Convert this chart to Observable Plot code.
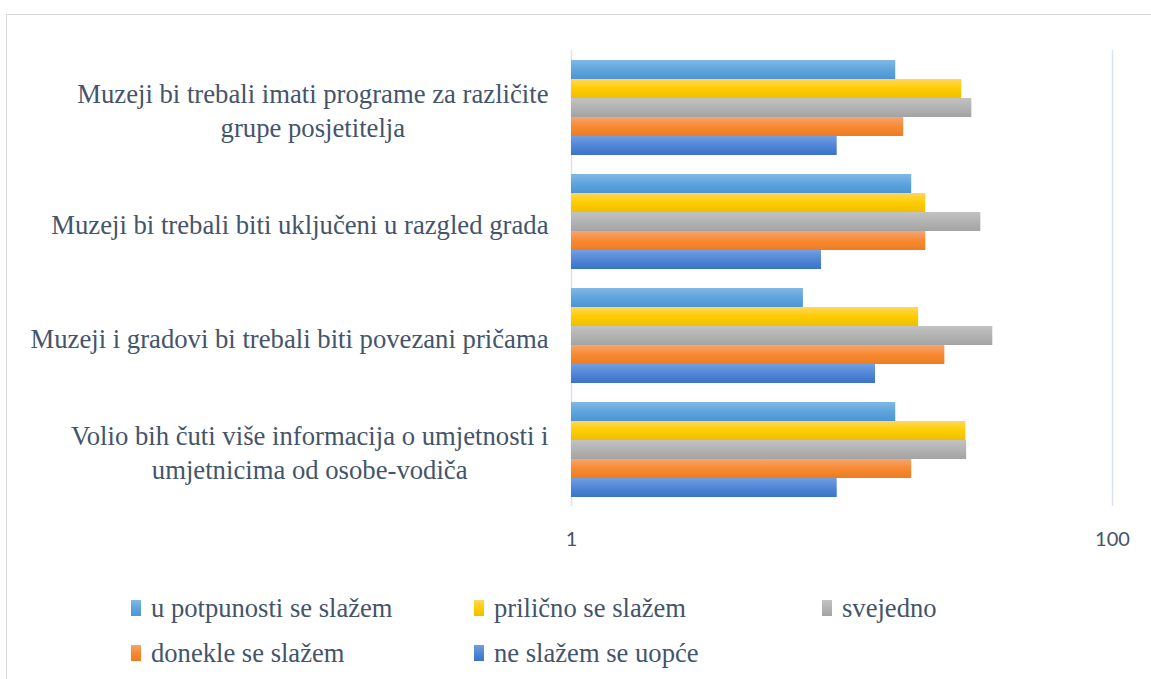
<!DOCTYPE html>
<html>
<head>
<meta charset="utf-8">
<script src="https://cdn.jsdelivr.net/npm/d3@7"></script>
<script src="https://cdn.jsdelivr.net/npm/@observablehq/plot@0.6"></script>
<style>
  html, body { margin: 0; padding: 0; background: #fff; width: 1151px; height: 679px; overflow: hidden; }
  #wrap { position: relative; width: 1151px; height: 679px; }
  #frame { position: absolute; left: 6px; top: 14px; width: 1200px; height: 700px; border-left: 1px solid #d9d9d9; border-top: 1px solid #d9d9d9; }
  #chart { position: absolute; left: 0; top: 0; }
  #legend { position: absolute; left: 0; top: 593px; width: 1151px; font-family: "Times New Roman", "Liberation Serif", "DejaVu Serif", serif; font-size: 26.6px; color: #44546a; }
  .item { position: absolute; display: flex; align-items: center; height: 30px; }
  .sw { width: 10px; height: 16px; margin-right: 10px; }
</style>
</head>
<body>
<div id="wrap">
  <div id="frame"></div>
  <div id="chart"></div>
  <div id="legend"></div>
</div>
<script>
// ---- data ----
const categories = [
  "Muzeji bi trebali imati programe za različite\ngrupe posjetitelja",
  "Muzeji bi trebali biti uključeni u razgled grada",
  "Muzeji i gradovi bi trebali biti povezani pričama",
  "Volio bih čuti više informacija o umjetnosti i\numjetnicima od osobe-vodiča"
];
const series = ["u potpunosti se slažem", "prilično se slažem", "svejedno", "donekle se slažem", "ne slažem se uopće"];
const uPotpunosti = [15.8, 18.1, 7.2, 15.8];
const prilicno    = [27.7, 20.4, 19.2, 28.7];
const svejedno    = [30.2, 32.6, 36.1, 28.9];
const donekle     = [16.9, 20.4, 24.0, 18.1];
const neSlazem    = [9.6, 8.4, 13.3, 9.6];
const xTicks = [1, 100];

const serifFont = '"Times New Roman", "Liberation Serif", "DejaVu Serif", serif';
const seriesValues = [uPotpunosti, prilicno, svejedno, donekle, neSlazem];
const gradients = [
  ["#82b8e6", "#5ea5dd", "#4d95d3"],
  ["#ffd75a", "#ffcc00", "#efbf00"],
  ["#c2c2c2", "#b3b3b3", "#a3a3a3"],
  ["#f7a46e", "#f78a32", "#ec7c22"],
  ["#729ee2", "#5286d6", "#3a73c6"]
];

const data = [];
categories.forEach((c, i) => {
  series.forEach((s, j) => data.push({category: c, series: s, value: seriesValues[j][i]}));
});

const chart = Plot.plot({
  width: 1151,
  height: 557,
  marginLeft: 571,
  marginRight: 39,
  marginTop: 49,
  marginBottom: 50,
  style: {background: "transparent"},
  x: {type: "log", domain: [1, 100], axis: null},
  y: {domain: series, paddingInner: 0, paddingOuter: 0.48, axis: null},
  fy: {domain: categories, padding: 0, axis: null},
  color: {domain: series, range: series.map((s, i) => `url(#grad${i})`)},
  marks: [
    Plot.gridX(xTicks, {stroke: "#dbe2ec", strokeOpacity: 1, strokeWidth: 1.5}),
    Plot.barX(data, {fy: "category", y: "series", x1: 1, x2: "value", fill: "series", inset: 0}),
    Plot.text(categories, {fy: d => d, text: d => d, frameAnchor: "left", textAnchor: "end", dx: -23, dy: 2,
      fontFamily: serifFont, fontSize: 26.7, lineHeight: 1.27, fill: "#44546a"}),
    Plot.axisX(xTicks, {tickSize: 0, tickPadding: 25, tickFormat: d => String(d), label: null, fontFamily: "Lato", fontSize: 20, color: "#44546a", facetAnchor: "bottom"})
  ]
});

document.getElementById("chart").appendChild(chart);
const svg = d3.select(chart);
const defs = svg.insert("defs", ":first-child");
gradients.forEach((g, i) => {
  const lg = defs.append("linearGradient").attr("id", `grad${i}`).attr("x1", 0).attr("y1", 0).attr("x2", 0).attr("y2", 1);
  lg.append("stop").attr("offset", "0%").attr("stop-color", g[0]);
  lg.append("stop").attr("offset", "50%").attr("stop-color", g[1]);
  lg.append("stop").attr("offset", "100%").attr("stop-color", g[2]);
});

// center multi-line labels relative to their longest line (right edge fixed)
svg.selectAll('g[aria-label="text"] text').each(function() {
  const tspans = this.querySelectorAll("tspan");
  if (tspans.length < 2) return;
  let maxW = 0;
  tspans.forEach(t => { maxW = Math.max(maxW, t.getComputedTextLength()); });
  this.setAttribute("text-anchor", "middle");
  tspans.forEach(t => t.setAttribute("x", -maxW / 2));
});

// legend
const legendPos = [[131, 0], [474, 0], [822, 0], [131, 45], [474, 45]];
const legend = d3.select("#legend");
series.forEach((s, i) => {
  const g = gradients[i];
  const it = legend.append("div").attr("class", "item")
    .style("left", legendPos[i][0] + "px").style("top", legendPos[i][1] + "px");
  it.append("div").attr("class", "sw").style("background", `linear-gradient(${g[0]}, ${g[1]}, ${g[2]})`);
  it.append("span").text(s);
});
</script>
</body>
</html>
